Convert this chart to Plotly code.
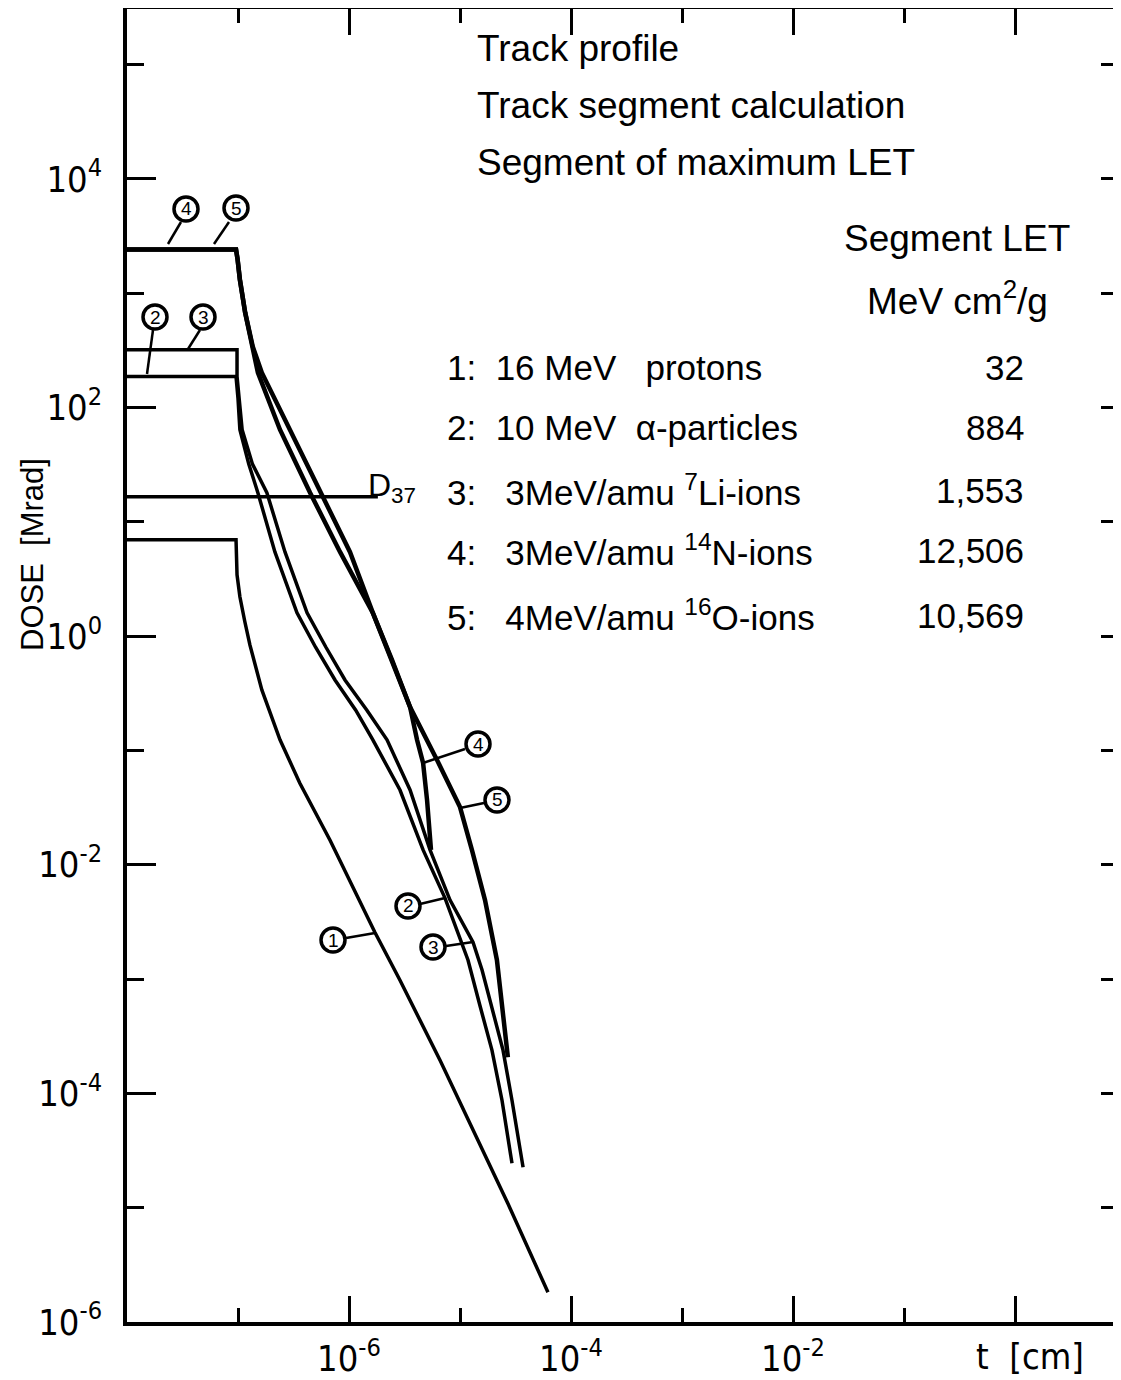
import plotly.graph_objects as go

# ---------------- data ----------------
# t in cm, dose in Mrad
t1 = [1e-8, 9.6e-8, 9.8e-8, 1.04e-7, 1.15e-7, 1.28e-7, 1.64e-7, 2.39e-7, 3.6e-7, 6.75e-7, 1.71e-6, 2.88e-6, 6.61e-6, 2.70e-5, 6.2e-5]
D1 = [6.97, 6.97, 3.44, 2.21, 1.35, 0.839, 0.339, 0.124, 0.052, 0.0164, 0.00257, 9.77e-4, 1.95e-4, 1.09e-5, 1.82e-6]

t2 = [1e-8, 9.6e-8, 1.0e-7, 1.04e-7, 1.25e-7, 1.51e-7, 2.15e-7, 3.40e-7, 5.0e-7, 7.48e-7, 1.15e-6, 1.64e-6, 2.88e-6, 4.65e-6, 7.33e-6,
      1.18e-5, 1.51e-5, 1.94e-5, 2.39e-5, 2.70e-5, 2.94e-5]
D2 = [187, 187, 120, 64.0, 32.0, 18.0, 5.46, 1.60, 0.80, 0.414, 0.225, 0.124, 0.0451, 0.0135, 0.00511,
      0.00147, 5.9e-4, 2.39e-4, 8.71e-5, 4.30e-5, 2.45e-5]

t3 = [1e-8, 9.8e-8, 9.8e-8, 1.02e-7, 1.09e-7, 1.35e-7, 1.82e-7, 2.65e-7, 4.19e-7, 6.2e-7, 9.20e-7, 1.45e-6, 2.20e-6, 3.55e-6, 5.37e-6, 8.13e-6,
      1.31e-5, 1.58e-5, 1.98e-5, 2.44e-5, 2.94e-5, 3.33e-5, 3.70e-5]
D3 = [321, 321, 187, 120, 64.0, 32.0, 18.0, 5.46, 1.60, 0.80, 0.414, 0.225, 0.124, 0.0451, 0.0135, 0.00491,
      0.00210, 0.00120, 5.35e-4, 2.39e-4, 8.71e-5, 4.30e-5, 2.26e-5]

t4 = [1e-8, 9.6e-8, 9.9e-8, 1.04e-7, 1.16e-7, 1.36e-7, 1.51e-7, 2.39e-7, 4.46e-7, 8.30e-7, 1.64e-6, 2.44e-6,
      3.55e-6, 4.10e-6, 4.65e-6, 5.05e-6, 5.37e-6, 5.48e-6]
D4 = [2415, 2415, 2000, 1318, 678, 341, 202, 64.0, 18.0, 5.46, 1.60, 0.621,
      0.240, 0.124, 0.0778, 0.0368, 0.0190, 0.0135]

t5 = [1e-8, 9.6e-8, 9.9e-8, 1.04e-7, 1.16e-7, 1.36e-7, 1.64e-7, 2.94e-7, 5.71e-7, 1.02e-6, 1.64e-6, 2.44e-6,
      3.55e-6, 6.21e-6, 1.0e-5, 1.28e-5, 1.68e-5, 2.15e-5, 2.44e-5, 2.70e-5]
D5 = [2415, 2415, 2000, 1318, 678, 341, 202, 64.0, 18.0, 5.46, 1.60, 0.621,
      0.240, 0.0826, 0.0320, 0.0135, 0.00491, 0.00147, 5.35e-4, 2.07e-4]

D37 = 16.6
t_D37 = [1e-8, 1.82e-6]

x_tickvals = [1e-6, 1e-4, 1e-2, 1]
x_ticktext = ["10<sup>-6</sup>", "10<sup>-4</sup>", "10<sup>-2</sup>", ""]
x_minor = [1e-7, 1e-5, 1e-3, 1e-1]
y_tickvals = [1e-6, 1e-4, 1e-2, 1, 1e2, 1e4]
y_ticktext = ["10<sup>-6</sup>", "10<sup>-4</sup>", "10<sup>-2</sup>", "10<sup>0</sup>", "10<sup>2</sup>", "10<sup>4</sup>"]
y_minor = [1e-5, 1e-3, 1e-1, 1e1, 1e3, 1e5]

legend_rows = ["1:  16 MeV   protons", "2:  10 MeV  α-particles", "3:   3MeV/amu <sup>7</sup>Li-ions",
               "4:   3MeV/amu <sup>14</sup>N-ions", "5:   4MeV/amu <sup>16</sup>O-ions"]
let_values = ["32", "884", "1,553", "12,506", "10,569"]

# ---------------- layout geometry ----------------
# the page body has an 8 px margin, so the figure is shifted by 8 px in the window
OFF = 8
W, H = 1121 - OFF, 1380 - OFF
PL, PT, PB = 127, 9, 1322           # plot-area edges in window pixels
L, T, R = PL - OFF, PT - OFF, 0
B = H - (PB - OFF)
FONT = "Liberation Sans, Arial, sans-serif"
NARROW = "Liberation Sans Narrow, DejaVu Sans Condensed, Liberation Sans, sans-serif"


def px(xp):
    return (xp - PL) / (1121 - PL)


def py(yp):
    return (PB - yp) / (PB - PT)


fig = go.Figure()
for t, D, w in [(t1, D1, 3.5), (t2, D2, 3.5), (t3, D3, 3.5), (t4, D4, 4.5), (t5, D5, 4.5)]:
    fig.add_trace(go.Scatter(x=t, y=D, mode="lines", line=dict(color="black", width=w),
                             showlegend=False, hoverinfo="skip"))
fig.add_trace(go.Scatter(x=t_D37, y=[D37, D37], mode="lines", line=dict(color="black", width=3.5),
                         yaxis="y2", showlegend=False, hoverinfo="skip"))

shapes = []
annotations = []


def text(s, xp, yp, size=37, xanchor="left", family=FONT, angle=0):
    annotations.append(dict(text=s, x=px(xp), y=py(yp), xref="paper", yref="paper", showarrow=False,
                            xanchor=xanchor, yanchor="middle", textangle=angle,
                            font=dict(family=family, size=size, color="black")))


def leader(x0, y0, x1, y1):
    shapes.append(dict(type="line", xref="paper", yref="paper", x0=px(x0), y0=py(y0), x1=px(x1), y1=py(y1),
                       line=dict(color="black", width=2.5)))


def circled(n, cx, cy, r=12):
    shapes.append(dict(type="circle", xref="paper", yref="paper", xsizemode="pixel", ysizemode="pixel",
                       xanchor=px(cx), yanchor=py(cy), x0=-r, x1=r, y0=-r, y1=r,
                       line=dict(color="black", width=3.5), fillcolor="white"))
    annotations.append(dict(text=str(n), x=px(cx), y=py(cy), xref="paper", yref="paper", showarrow=False,
                            xanchor="center", yanchor="middle",
                            font=dict(family=FONT, size=19, color="black")))


# header texts
text("Track profile", 475, 48)
text("Track segment calculation", 475, 105)
text("Segment of maximum LET", 475, 163)
text("Segment LET", 1072, 238, xanchor="right")
text("MeV cm<sup>2</sup>/g", 1050, 298, xanchor="right")
for i, (row, val) in enumerate(zip(legend_rows, let_values)):
    yy = [368, 428, 490, 550, 615][i]
    text(row, 445, yy, size=35)
    text(val, 1026, yy, size=35, xanchor="right")

text("D<sub>37</sub>", 366, 487, size=32)
text("DOSE  [Mrad]", 32, 555, size=31, xanchor="center", angle=-90)
text("t  [cm]", 1030, 1356, size=36, xanchor="center", family=NARROW)

# label leaders and circles
leader(168, 244, 181, 222)
leader(214, 244, 229, 222)
leader(147, 374, 153, 330)
leader(188, 349, 200, 330)
leader(346, 938, 375, 933)
leader(420, 904, 445, 898)
leader(446, 946, 473, 942)
leader(465, 749, 423, 763)
leader(484, 803, 460, 808)
circled(4, 186, 209)
circled(5, 236, 208)
circled(2, 155, 317)
circled(3, 203, 317)
circled(1, 333, 940)
circled(2, 408, 906)
circled(3, 433, 947)
circled(4, 478, 744)
circled(5, 497, 800)

axis_common = dict(type="log", showgrid=False, zeroline=False, linecolor="black", tickcolor="black",
                   ticks="inside", tickwidth=3, automargin=False)

fig.update_layout(
    width=W, height=H, margin=dict(l=L, r=R, t=T, b=B),
    paper_bgcolor="white", plot_bgcolor="white", showlegend=False,
    xaxis=dict(**axis_common, range=[-8, 0.955], showline=True, linewidth=3.5, mirror="ticks",
               tickvals=x_tickvals, ticktext=x_ticktext, ticklen=26, ticklabelstandoff=2,
               tickfont=dict(family=NARROW, size=36, color="black"),
               minor=dict(tickvals=x_minor, ticklen=14, tickwidth=3, tickcolor="black", ticks="inside")),
    yaxis=dict(**axis_common, range=[-6, 5.487], showline=True, linewidth=3.5, mirror=False,
               tickvals=y_tickvals, ticktext=y_ticktext, ticklen=29, ticklabelstandoff=14,
               tickfont=dict(family=NARROW, size=36, color="black"),
               minor=dict(tickvals=y_minor, ticklen=17, tickwidth=3, tickcolor="black", ticks="inside")),
    yaxis2=dict(**axis_common, range=[-6, 5.487], overlaying="y", side="right", showline=False,
                tickvals=y_tickvals, ticklen=20, showticklabels=False,
                minor=dict(tickvals=y_minor, ticklen=20, tickwidth=3, tickcolor="black", ticks="inside")),
    shapes=shapes, annotations=annotations,
)

fig.write_html("out.html")
